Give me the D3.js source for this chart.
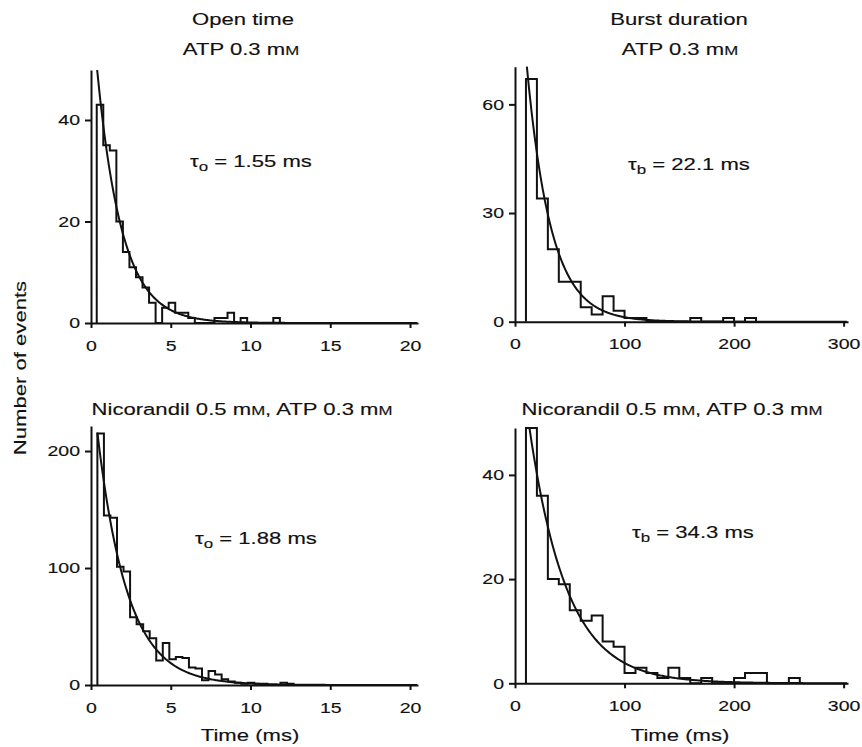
<!DOCTYPE html>
<html>
<head>
<meta charset="utf-8">
<title>Open time and burst duration histograms</title>
<script src="https://d3js.org/d3.v7.min.js"></script>
<style>
  body { margin: 0; background: #fff; }
  svg text { font-family: "Liberation Sans", Arial, sans-serif; fill: #111; stroke: #111; stroke-width: 0.15px; }
</style>
</head>
<body>
<script>
// counts per bin
const openCtrlCounts  = [43, 35, 34, 20, 14, 11, 9, 7, 4, 0, 3, 4, 2, 2, 1, 0, 0, 0, 1, 1, 2, 0, 1, 0, 0, 0, 0, 1];
const burstCtrlCounts = [67, 34, 20, 11, 11, 4, 2, 7, 3, 1, 1, 0, 0, 0, 0, 1, 0, 0, 1, 0, 1];
const openNicCounts   = [215, 145, 143, 101, 97, 58, 52, 46, 40, 21, 36, 22, 24, 23, 15, 14, 4, 12, 9, 5, 3, 2, 1, 2, 1, 1, 0, 0, 2, 1];
const burstNicCounts  = [49, 36, 20, 19, 14, 12, 13, 8, 7, 2, 3, 2, 1, 3, 1, 0, 1, 0, 0, 1, 2, 2, 0, 0, 1];

// first bin edge and bin width (ms)
const binStart = [0.36, 10, 0.4, 10];
const binWidth = [0.41, 10, 0.41, 10];

// exponential fits
const tauSymbol = ["o", "b", "o", "b"];
const tauMs = [1.55, 22.1, 1.88, 34.3];
const fitAmplitude = [64, 115, 267, 72];

// axes
const xTicksOpen = [0, 5, 10, 15, 20];
const xTicksBurst = [0, 100, 200, 300];
const yTicks = [[0, 20, 40], [0, 30, 60], [0, 100, 200], [0, 20, 40]];
const xMax = [20.5, 304, 20.5, 304];
const yMax = [49.85, 70.4, 221.4, 49];

const titles = [["Open time", "ATP 0.3 mM"], ["Burst duration", "ATP 0.3 mM"],
                ["Nicorandil 0.5 mM, ATP 0.3 mM"], ["Nicorandil 0.5 mM, ATP 0.3 mM"]];

const allCounts = [openCtrlCounts, burstCtrlCounts, openNicCounts, burstNicCounts];

// pixel boxes of the four plots
const boxes = [
    { left: 91, right: 418, top: 70, bottom: 323 },
    { left: 515, right: 848, top: 66.7, bottom: 321.7 },
    { left: 91, right: 418, top: 426, bottom: 685 },
    { left: 515, right: 848, top: 428, bottom: 683.3 }
];

const STRETCH = 1.3;   // the original type is a wide face
const LINE = "#111";

const svg = d3.select("body").append("svg")
    .attr("width", 862)
    .attr("height", 747);

// writes "mM" with a small capital M
function richText(sel, str) {
    const parts = str.split("mM");
    parts.forEach((p, i) => {
        if (p) sel.append("tspan").text(p);
        if (i < parts.length - 1) {
            sel.append("tspan").text("m");
            sel.append("tspan").attr("font-size", "76%").text("M");
        }
    });
}

function label(x, y, str, size, anchor, rotate) {
    const t = svg.append("text")
        .attr("transform", `translate(${x},${y})` + (rotate ? ` rotate(${rotate})` : "") + ` scale(${STRETCH},1)`)
        .attr("font-size", size)
        .attr("text-anchor", anchor);
    richText(t, str);
    return t;
}

function tauLabel(x, y, sym, value) {
    const t = svg.append("text")
        .attr("transform", `translate(${x},${y}) scale(${STRETCH},1)`)
        .attr("font-size", 17);
    t.append("tspan").text("τ");
    t.append("tspan").attr("font-size", 13).attr("dy", 4).text(sym);
    t.append("tspan").attr("dy", -4).text(`  =  ${value} ms`);
}

const stepLine = d3.line().curve(d3.curveStepAfter);

boxes.forEach((b, i) => {
    const x = d3.scaleLinear().domain([0, xMax[i]]).range([b.left, b.right]);
    const y = d3.scaleLinear().domain([0, yMax[i]]).range([b.bottom, b.top]);

    const xAxis = d3.axisBottom(x)
        .tickValues(i % 2 === 0 ? xTicksOpen : xTicksBurst)
        .tickSize(5).tickPadding(12).tickSizeOuter(0);
    const yAxis = d3.axisLeft(y)
        .tickValues(yTicks[i])
        .tickSize(6).tickPadding(5).tickSizeOuter(0);

    const gx = svg.append("g").attr("transform", `translate(0,${b.bottom})`).call(xAxis);
    const gy = svg.append("g").attr("transform", `translate(${b.left},0)`).call(yAxis);

    [gx, gy].forEach(g => {
        g.selectAll("path, line").attr("stroke", LINE).attr("stroke-width", 2);
        g.selectAll("text")
            .attr("font-size", 15)
            .attr("font-family", "Liberation Sans, Arial, sans-serif")
            .attr("fill", LINE)
            .attr("transform", `scale(${STRETCH},1)`);
    });
    gy.selectAll("text").attr("x", -11 / STRETCH);

    // histogram outline
    const counts = allCounts[i];
    const s = binStart[i], w = binWidth[i];
    const end = s + counts.length * w;
    const pts = [[s, 0]]
        .concat(counts.map((c, k) => [s + k * w, c]))
        .concat([[end, counts[counts.length - 1]], [end, 0]])
        .map(d => [x(d[0]), y(d[1])]);

    svg.append("path")
        .attr("d", stepLine(pts))
        .attr("fill", "none")
        .attr("stroke", LINE)
        .attr("stroke-width", 2);

    // fitted exponential
    const A = fitAmplitude[i], tau = tauMs[i];
    const t0 = Math.max(s, tau * Math.log(A / yMax[i]));
    const ts = d3.range(t0, xMax[i], (xMax[i] - t0) / 300);
    svg.append("path")
        .attr("d", d3.line()(ts.map(t => [x(t), y(A * Math.exp(-t / tau))])))
        .attr("fill", "none")
        .attr("stroke", LINE)
        .attr("stroke-width", 2);
});

// titles
label(243, 25, titles[0][0], 17, "middle");
label(241, 55, titles[0][1], 17, "middle");
label(679, 25, titles[1][0], 17, "middle");
label(680, 55, titles[1][1], 17, "middle");
label(242, 415, titles[2][0], 17, "middle");
label(672, 415, titles[3][0], 17, "middle");

// time constants
tauLabel(190, 167, tauSymbol[0], tauMs[0]);
tauLabel(628, 170, tauSymbol[1], tauMs[1]);
tauLabel(195, 544, tauSymbol[2], tauMs[2]);
tauLabel(632, 538, tauSymbol[3], tauMs[3]);

// axis titles
label(26, 368, "Number of events", 17, "middle", -90);
label(250, 741, "Time (ms)", 17, "middle");
label(680, 741, "Time (ms)", 17, "middle");
</script>
</body>
</html>
